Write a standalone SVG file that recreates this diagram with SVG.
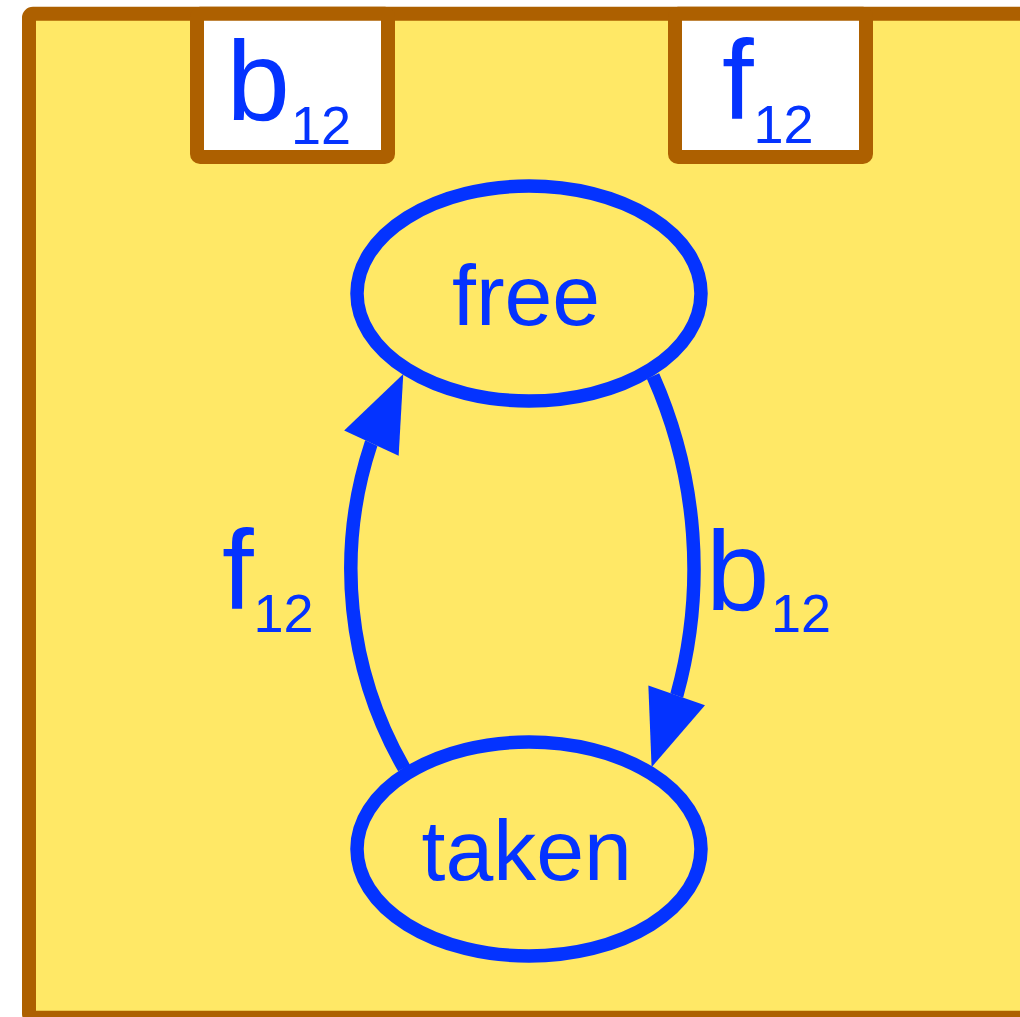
<svg xmlns="http://www.w3.org/2000/svg" width="1020" height="1017" viewBox="0 0 1020 1017">
  <style>
    .frame { fill: #FFE866; stroke: #AD6000; stroke-width: 14; }
    .port { fill: #FFFFFF; stroke: #AD6000; stroke-width: 14; }
    .state { fill: #FFE866; stroke: #0433FF; stroke-width: 13.5; }
    .edge { fill: none; stroke: #0433FF; stroke-width: 13.5; }
    .t { font-family: "Liberation Sans", Arial, sans-serif; fill: #0433FF; }
    .big { font-size: 114px; }
    .sub { font-size: 54px; }
    .st { font-size: 86px; }
  </style>
  <defs>
    <marker id="arrow" markerUnits="userSpaceOnUse" markerWidth="80" markerHeight="64" viewBox="0 -32 80 64" refX="0" refY="0" orient="auto" overflow="visible">
      <path d="M0,-30 L76,0 L0,30 Z" fill="#0433FF"/>
    </marker>
  </defs>

  <g id="frame">
    <rect class="frame" x="29" y="13.7" width="1100" height="1004" rx="4"/>
  </g>

  <g id="port-b12">
    <rect class="port" x="197" y="13.7" width="191" height="143.3" rx="3"/>
    <text class="t big" x="226.5" y="120">b<tspan class="sub" x="291" y="144">12</tspan></text>
  </g>

  <g id="port-f12">
    <rect class="port" x="675" y="13.7" width="191" height="143.3" rx="3"/>
    <text class="t big" x="722" y="119">f<tspan class="sub" x="753.5" y="143">12</tspan></text>
  </g>

  <g id="connectors">
    <path class="edge" d="M404,768 A398.5,398.5 0 0 1 371,444 l0.42,-0.91" marker-end="url(#arrow)"/>
    <path class="edge" d="M653,376 A473.6,473.6 0 0 1 677,694.5 l-0.33,0.944" marker-end="url(#arrow)"/>
    <g id="label-f12">
      <text class="t big" x="222" y="609">f<tspan class="sub" x="253.5" y="632">12</tspan></text>
    </g>
    <g id="label-b12">
      <text class="t big" x="706" y="610">b<tspan class="sub" x="771" y="632">12</tspan></text>
    </g>
  </g>

  <g id="state-free">
    <ellipse class="state" cx="529" cy="293.5" rx="172" ry="107.5"/>
    <text class="t st" x="452" y="325">free</text>
  </g>

  <g id="state-taken">
    <ellipse class="state" cx="529" cy="849" rx="172" ry="107"/>
    <text class="t st" x="421.5" y="880">taken</text>
  </g>
</svg>
